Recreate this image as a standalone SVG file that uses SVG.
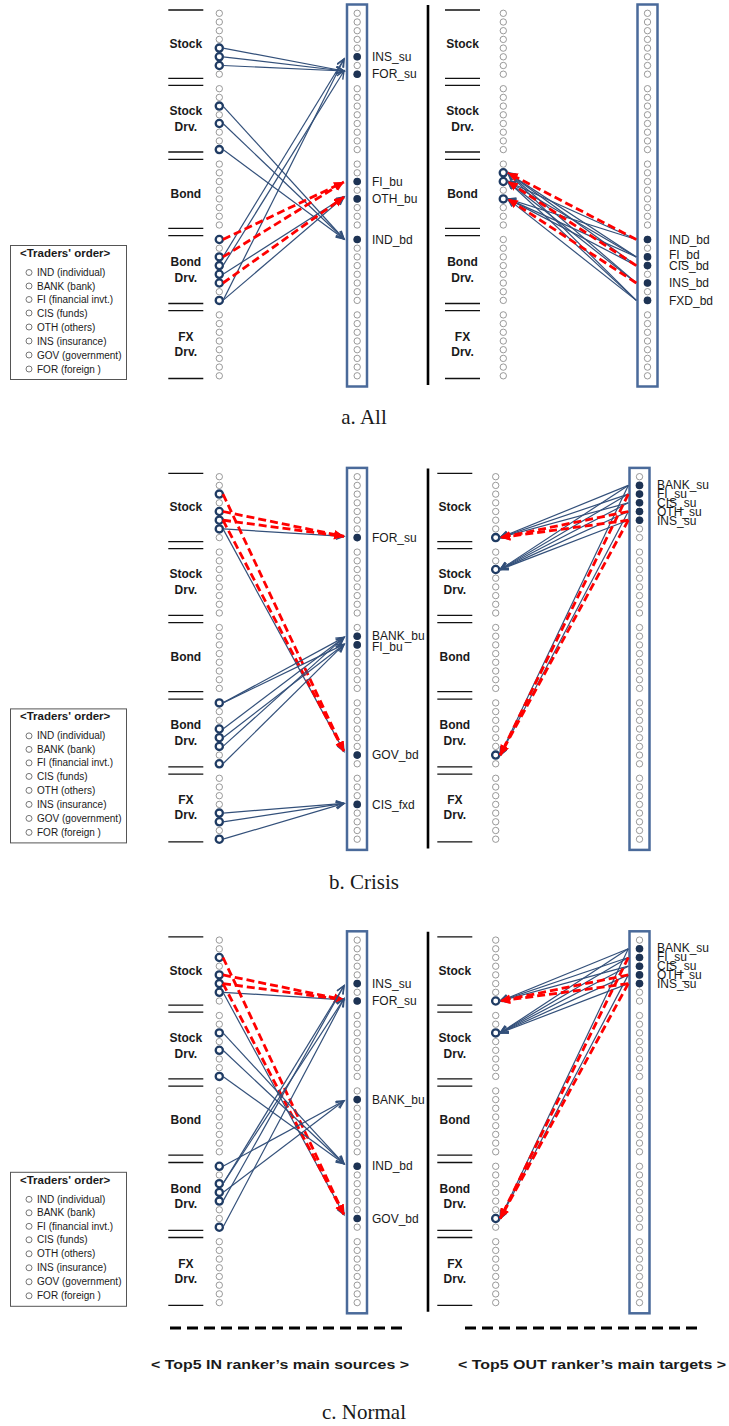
<svg xmlns="http://www.w3.org/2000/svg" xmlns:xlink="http://www.w3.org/1999/xlink" width="729" height="1426" viewBox="0 0 729 1426">
<style>
text{font-family:"Liberation Sans",Arial,sans-serif;fill:#1a1a1a}
.cat{font-size:12px;font-weight:bold;text-anchor:middle}
.lbl{font-size:12px}
.leg{font-size:10px}
.legt{font-size:11.5px;font-weight:bold}
.cap{font-family:"Liberation Serif","DejaVu Serif",serif;font-size:21px;text-anchor:middle}
.bot{font-size:13.5px;font-weight:bold;text-anchor:middle}
.lc{fill:#fff;stroke:#808080;stroke-width:0.8}
.hc{fill:#fff;stroke:#1f3b63;stroke-width:2.3}
.fc{fill:#1d3354;stroke:none}
.box{fill:none;stroke:#4a6a9a;stroke-width:2.5}
.div{stroke:#000;stroke-width:2.6}
.sep{stroke:#111;stroke-width:1.3}
.b{stroke:#33507a;stroke-width:1.2;fill:none;marker-end:url(#ab)}
.r{stroke:#ff0000;stroke-width:2.8;fill:none;stroke-dasharray:8 4;marker-end:url(#ar)}
</style>
<defs>
<marker id="ab" markerUnits="userSpaceOnUse" markerWidth="12" markerHeight="12" refX="9" refY="4" orient="auto">
<path d="M1,0.5 L9,4 L1,7.5" fill="none" stroke="#33507a" stroke-width="1.4"/>
</marker>
<marker id="ar" markerUnits="userSpaceOnUse" markerWidth="12" markerHeight="12" refX="10" refY="4.5" orient="auto">
<path d="M0,0 L10,4.5 L0,9 z" fill="#ff0000"/>
</marker>
<g id="col">
<circle class="lc" cx="0" cy="13.3" r="3.2"/><circle class="lc" cx="0" cy="22" r="3.2"/><circle class="lc" cx="0" cy="30.7" r="3.2"/><circle class="lc" cx="0" cy="39.4" r="3.2"/><circle class="lc" cx="0" cy="48.1" r="3.2"/><circle class="lc" cx="0" cy="56.8" r="3.2"/><circle class="lc" cx="0" cy="65.5" r="3.2"/><circle class="lc" cx="0" cy="74.2" r="3.2"/>
<circle class="lc" cx="0" cy="88.7" r="3.2"/><circle class="lc" cx="0" cy="97.4" r="3.2"/><circle class="lc" cx="0" cy="106.1" r="3.2"/><circle class="lc" cx="0" cy="114.8" r="3.2"/><circle class="lc" cx="0" cy="123.5" r="3.2"/><circle class="lc" cx="0" cy="132.2" r="3.2"/><circle class="lc" cx="0" cy="140.9" r="3.2"/><circle class="lc" cx="0" cy="149.6" r="3.2"/>
<circle class="lc" cx="0" cy="164.1" r="3.2"/><circle class="lc" cx="0" cy="172.8" r="3.2"/><circle class="lc" cx="0" cy="181.5" r="3.2"/><circle class="lc" cx="0" cy="190.2" r="3.2"/><circle class="lc" cx="0" cy="198.9" r="3.2"/><circle class="lc" cx="0" cy="207.6" r="3.2"/><circle class="lc" cx="0" cy="216.3" r="3.2"/><circle class="lc" cx="0" cy="225" r="3.2"/>
<circle class="lc" cx="0" cy="239.5" r="3.2"/><circle class="lc" cx="0" cy="248.2" r="3.2"/><circle class="lc" cx="0" cy="256.9" r="3.2"/><circle class="lc" cx="0" cy="265.6" r="3.2"/><circle class="lc" cx="0" cy="274.3" r="3.2"/><circle class="lc" cx="0" cy="283" r="3.2"/><circle class="lc" cx="0" cy="291.7" r="3.2"/><circle class="lc" cx="0" cy="300.4" r="3.2"/>
<circle class="lc" cx="0" cy="314.9" r="3.2"/><circle class="lc" cx="0" cy="323.6" r="3.2"/><circle class="lc" cx="0" cy="332.3" r="3.2"/><circle class="lc" cx="0" cy="341" r="3.2"/><circle class="lc" cx="0" cy="349.7" r="3.2"/><circle class="lc" cx="0" cy="358.4" r="3.2"/><circle class="lc" cx="0" cy="367.1" r="3.2"/><circle class="lc" cx="0" cy="375.8" r="3.2"/>
</g>
<g id="cats">
<path class="sep" d="M0,10H35M0,78.3H35M0,85.3H35M0,152H35M0,159.3H35M0,228.3H35M0,235.7H35M0,303.5H35M0,310.7H35M0,378.5H35"/>
<text class="cat" x="17.5" y="48">Stock</text>
<text class="cat" x="17.5" y="115">Stock</text><text class="cat" x="17.5" y="131">Drv.</text>
<text class="cat" x="17.5" y="197.5">Bond</text>
<text class="cat" x="17.5" y="266">Bond</text><text class="cat" x="17.5" y="281.5">Drv.</text>
<text class="cat" x="17.5" y="341">FX</text><text class="cat" x="17.5" y="356">Drv.</text>
</g>
<g id="legend">
<rect x="10.5" y="245.5" width="116" height="134" fill="#fff" stroke="#555" stroke-width="1"/>
<text class="legt" x="20" y="257">&lt;Traders' order&gt;</text>
<circle cx="29" cy="272.5" r="3" fill="none" stroke="#555" stroke-width="0.8"/><text class="leg" x="37" y="276">IND (individual)</text>
<circle cx="29" cy="286" r="3" fill="none" stroke="#555" stroke-width="0.8"/><text class="leg" x="37" y="289.5">BANK (bank)</text>
<circle cx="29" cy="299.5" r="3" fill="none" stroke="#555" stroke-width="0.8"/><text class="leg" x="37" y="303">FI (financial invt.)</text>
<circle cx="29" cy="313" r="3" fill="none" stroke="#555" stroke-width="0.8"/><text class="leg" x="37" y="316.5">CIS (funds)</text>
<circle cx="29" cy="327" r="3" fill="none" stroke="#555" stroke-width="0.8"/><text class="leg" x="37" y="330.5">OTH (others)</text>
<circle cx="29" cy="341" r="3" fill="none" stroke="#555" stroke-width="0.8"/><text class="leg" x="37" y="344.5">INS (insurance)</text>
<circle cx="29" cy="355" r="3" fill="none" stroke="#555" stroke-width="0.8"/><text class="leg" x="37" y="358.5">GOV (government)</text>
<circle cx="29" cy="369" r="3" fill="none" stroke="#555" stroke-width="0.8"/><text class="leg" x="37" y="372.5">FOR (foreign )</text>
</g>
</defs>

<!-- ================= PANEL A ================= -->
<g id="panel-a">
<use href="#legend"/>
<use href="#cats" x="168.3"/>
<use href="#cats" x="445"/>
<line class="div" x1="428" y1="5" x2="428" y2="385"/>
<rect class="box" x="347" y="4.5" width="20" height="382"/>
<rect class="box" x="637.5" y="4.5" width="20" height="382"/>
<use href="#col" x="219.3"/>
<use href="#col" x="357.2"/>
<use href="#col" x="503.3"/>
<use href="#col" x="647.5"/>
<g id="a-nodes">
<g id="a-src-left">
<circle class="hc" cx="219.3" cy="48.1" r="3.6"/><circle class="hc" cx="219.3" cy="56.8" r="3.6"/><circle class="hc" cx="219.3" cy="65.5" r="3.6"/>
<circle class="hc" cx="219.3" cy="106.1" r="3.6"/><circle class="hc" cx="219.3" cy="123.5" r="3.6"/><circle class="hc" cx="219.3" cy="149.6" r="3.6"/>
<circle class="hc" cx="219.3" cy="239.5" r="3.6"/><circle class="hc" cx="219.3" cy="256.9" r="3.6"/><circle class="hc" cx="219.3" cy="265.6" r="3.6"/><circle class="hc" cx="219.3" cy="274.3" r="3.6"/><circle class="hc" cx="219.3" cy="283" r="3.6"/><circle class="hc" cx="219.3" cy="300.4" r="3.6"/>
</g>
<g id="a-in-INS_su"><circle class="fc" cx="357.2" cy="56.8" r="3.8"/><text class="lbl" x="372" y="61">INS_su</text></g>
<g id="a-in-FOR_su"><circle class="fc" cx="357.2" cy="74.2" r="3.8"/><text class="lbl" x="372" y="78.4">FOR_su</text></g>
<g id="a-in-FI_bu"><circle class="fc" cx="357.2" cy="181.5" r="3.8"/><text class="lbl" x="372" y="185.7">FI_bu</text></g>
<g id="a-in-OTH_bu"><circle class="fc" cx="357.2" cy="198.9" r="3.8"/><text class="lbl" x="372" y="203.1">OTH_bu</text></g>
<g id="a-in-IND_bd"><circle class="fc" cx="357.2" cy="239.5" r="3.8"/><text class="lbl" x="372" y="243.7">IND_bd</text></g>
<g id="a-tgt-right">
<circle class="hc" cx="503.3" cy="172.8" r="3.6"/><circle class="hc" cx="503.3" cy="181.5" r="3.6"/><circle class="hc" cx="503.3" cy="198.9" r="3.6"/>
</g>
<g id="a-out-IND_bd"><circle class="fc" cx="647.5" cy="239.5" r="3.8"/><text class="lbl" x="669" y="243.7">IND_bd</text></g>
<g id="a-out-FI_bd"><circle class="fc" cx="647.5" cy="256.9" r="3.8"/><text class="lbl" x="669" y="258.7">FI_bd</text></g>
<g id="a-out-CIS_bd"><circle class="fc" cx="647.5" cy="265.6" r="3.8"/><text class="lbl" x="669" y="270.2">CIS_bd</text></g>
<g id="a-out-INS_bd"><circle class="fc" cx="647.5" cy="283" r="3.8"/><text class="lbl" x="669" y="287.2">INS_bd</text></g>
<g id="a-out-FXD_bd"><circle class="fc" cx="647.5" cy="300.4" r="3.8"/><text class="lbl" x="669" y="304.6">FXD_bd</text></g>
</g>
<g id="a-connectors">
<line class="b" x1="223" y1="48.1" x2="344" y2="71"/>
<line class="b" x1="223" y1="56.8" x2="344" y2="71"/>
<line class="b" x1="223" y1="65.5" x2="344" y2="71"/>
<line class="b" x1="223" y1="106.1" x2="344" y2="239"/>
<line class="b" x1="223" y1="123.5" x2="344" y2="239"/>
<line class="b" x1="223" y1="149.6" x2="344" y2="239"/>
<line class="b" x1="223" y1="256.9" x2="344" y2="59"/>
<line class="b" x1="223" y1="300.4" x2="344" y2="59"/>
<line class="b" x1="223" y1="265.6" x2="344" y2="71"/>
<line class="b" x1="223" y1="274.3" x2="344" y2="197"/>
<line class="b" x1="223" y1="300.4" x2="344" y2="197"/>
<line class="r" x1="223" y1="239.5" x2="344" y2="182"/>
<line class="r" x1="223" y1="256.9" x2="344" y2="182"/>
<line class="r" x1="223" y1="283" x2="344" y2="197"/>
<line class="b" x1="636.3" y1="239.5" x2="507.8" y2="181.5"/>
<line class="b" x1="636.3" y1="239.5" x2="507.8" y2="198.9"/>
<line class="b" x1="636.3" y1="256.9" x2="507.8" y2="172.8"/>
<line class="b" x1="636.3" y1="256.9" x2="507.8" y2="181.5"/>
<line class="b" x1="636.3" y1="256.9" x2="507.8" y2="198.9"/>
<line class="b" x1="636.3" y1="265.6" x2="507.8" y2="172.8"/>
<line class="b" x1="636.3" y1="265.6" x2="507.8" y2="198.9"/>
<line class="b" x1="636.3" y1="283" x2="507.8" y2="172.8"/>
<line class="b" x1="636.3" y1="283" x2="507.8" y2="181.5"/>
<line class="b" x1="636.3" y1="300.4" x2="507.8" y2="172.8"/>
<line class="b" x1="636.3" y1="300.4" x2="507.8" y2="181.5"/>
<line class="b" x1="636.3" y1="300.4" x2="507.8" y2="198.9"/>
<line class="r" x1="636.3" y1="239.5" x2="507.8" y2="172.8"/>
<line class="r" x1="636.3" y1="265.6" x2="507.8" y2="181.5"/>
<line class="r" x1="636.3" y1="283" x2="507.8" y2="198.9"/>
</g>
<text class="cap" x="364" y="424">a.  All</text>
</g>

<!-- ================= PANEL B ================= -->
<g id="panel-b" transform="translate(0,463.4)">
<use href="#legend"/>
<use href="#cats" x="168.3"/>
<use href="#cats" x="437.3"/>
<line class="div" x1="428" y1="5" x2="428" y2="385"/>
<rect class="box" x="347" y="4.5" width="20" height="382"/>
<rect class="box" x="629.5" y="4.5" width="20" height="382"/>
<use href="#col" x="219.3"/>
<use href="#col" x="357.2"/>
<use href="#col" x="495.7"/>
<use href="#col" x="639.5"/>
<g id="b-nodes">
<g id="b-src-left">
<circle class="hc" cx="219.3" cy="30.7" r="3.6"/><circle class="hc" cx="219.3" cy="48.1" r="3.6"/><circle class="hc" cx="219.3" cy="56.8" r="3.6"/><circle class="hc" cx="219.3" cy="65.5" r="3.6"/>
<circle class="hc" cx="219.3" cy="239.5" r="3.6"/><circle class="hc" cx="219.3" cy="265.6" r="3.6"/><circle class="hc" cx="219.3" cy="274.3" r="3.6"/><circle class="hc" cx="219.3" cy="283" r="3.6"/><circle class="hc" cx="219.3" cy="300.4" r="3.6"/>
<circle class="hc" cx="219.3" cy="349.7" r="3.6"/><circle class="hc" cx="219.3" cy="358.4" r="3.6"/><circle class="hc" cx="219.3" cy="375.8" r="3.6"/>
</g>
<g id="b-in-FOR_su"><circle class="fc" cx="357.2" cy="74.2" r="3.8"/><text class="lbl" x="372" y="78.4">FOR_su</text></g>
<g id="b-in-BANK_bu"><circle class="fc" cx="357.2" cy="172.8" r="3.8"/><text class="lbl" x="372" y="177">BANK_bu</text></g>
<g id="b-in-FI_bu"><circle class="fc" cx="357.2" cy="181.5" r="3.8"/><text class="lbl" x="372" y="188">FI_bu</text></g>
<g id="b-in-GOV_bd"><circle class="fc" cx="357.2" cy="291.7" r="3.8"/><text class="lbl" x="372" y="295.9">GOV_bd</text></g>
<g id="b-in-CIS_fxd"><circle class="fc" cx="357.2" cy="341" r="3.8"/><text class="lbl" x="372" y="345.2">CIS_fxd</text></g>
<g id="b-tgt-right">
<circle class="hc" cx="495.7" cy="74.2" r="3.6"/><circle class="hc" cx="495.7" cy="106.1" r="3.6"/><circle class="hc" cx="495.7" cy="291.7" r="3.6"/>
</g>
<g id="b-out-BANK_su"><circle class="fc" cx="639.5" cy="22" r="3.8"/><text class="lbl" x="657" y="25.5">BANK_su</text></g>
<g id="b-out-FI_su"><circle class="fc" cx="639.5" cy="30.7" r="3.8"/><text class="lbl" x="657" y="34.5">FI_su</text></g>
<g id="b-out-CIS_su"><circle class="fc" cx="639.5" cy="39.4" r="3.8"/><text class="lbl" x="657" y="43.5">CIS_su</text></g>
<g id="b-out-OTH_su"><circle class="fc" cx="639.5" cy="48.1" r="3.8"/><text class="lbl" x="657" y="52.3">OTH_su</text></g>
<g id="b-out-INS_su"><circle class="fc" cx="639.5" cy="56.8" r="3.8"/><text class="lbl" x="657" y="61.5">INS_su</text></g>
</g>
<g id="b-connectors">
<line class="b" x1="223" y1="65.5" x2="344" y2="73"/>
<line class="b" x1="223" y1="65.5" x2="344" y2="288"/>
<line class="r" x1="223" y1="30.7" x2="344" y2="288"/>
<line class="r" x1="223" y1="56.8" x2="344" y2="288"/>
<line class="r" x1="223" y1="48.1" x2="344" y2="73"/>
<line class="r" x1="223" y1="56.8" x2="344" y2="73"/>
<line class="b" x1="223" y1="239.5" x2="344" y2="174"/>
<line class="b" x1="223" y1="239.5" x2="344" y2="181"/>
<line class="b" x1="223" y1="265.6" x2="344" y2="174"/>
<line class="b" x1="223" y1="274.3" x2="344" y2="181"/>
<line class="b" x1="223" y1="283" x2="344" y2="174"/>
<line class="b" x1="223" y1="300.4" x2="344" y2="181"/>
<line class="b" x1="223" y1="349.7" x2="344" y2="340"/>
<line class="b" x1="223" y1="358.4" x2="344" y2="340"/>
<line class="b" x1="223" y1="375.8" x2="344" y2="340"/>
<line class="b" x1="628.3" y1="22" x2="500.2" y2="74.2"/>
<line class="b" x1="628.3" y1="30.7" x2="500.2" y2="74.2"/>
<line class="b" x1="628.3" y1="39.4" x2="500.2" y2="74.2"/>
<line class="b" x1="628.3" y1="22" x2="500.2" y2="106.1"/>
<line class="b" x1="628.3" y1="30.7" x2="500.2" y2="106.1"/>
<line class="b" x1="628.3" y1="39.4" x2="500.2" y2="106.1"/>
<line class="b" x1="628.3" y1="48.1" x2="500.2" y2="106.1"/>
<line class="b" x1="628.3" y1="56.8" x2="500.2" y2="106.1"/>
<line class="b" x1="628.3" y1="22" x2="500.2" y2="291.7"/>
<line class="b" x1="628.3" y1="48.1" x2="500.2" y2="291.7"/>
<line class="r" x1="628.3" y1="48.1" x2="500.2" y2="74.2"/>
<line class="r" x1="628.3" y1="56.8" x2="500.2" y2="74.2"/>
<line class="r" x1="628.3" y1="30.7" x2="500.2" y2="291.7"/>
<line class="r" x1="628.3" y1="56.8" x2="500.2" y2="291.7"/>
</g>
<text class="cap" x="364" y="426">b.  Crisis</text>
</g>

<!-- ================= PANEL C ================= -->
<g id="panel-c" transform="translate(0,926.8)">
<use href="#legend"/>
<use href="#cats" x="168.3"/>
<use href="#cats" x="437.3"/>
<line class="div" x1="428" y1="5" x2="428" y2="385"/>
<rect class="box" x="347" y="4.5" width="20" height="382"/>
<rect class="box" x="629.5" y="4.5" width="20" height="382"/>
<use href="#col" x="219.3"/>
<use href="#col" x="357.2"/>
<use href="#col" x="495.7"/>
<use href="#col" x="639.5"/>
<g id="c-nodes">
<g id="c-src-left">
<circle class="hc" cx="219.3" cy="30.7" r="3.6"/><circle class="hc" cx="219.3" cy="48.1" r="3.6"/><circle class="hc" cx="219.3" cy="56.8" r="3.6"/><circle class="hc" cx="219.3" cy="65.5" r="3.6"/>
<circle class="hc" cx="219.3" cy="106.1" r="3.6"/><circle class="hc" cx="219.3" cy="123.5" r="3.6"/><circle class="hc" cx="219.3" cy="149.6" r="3.6"/>
<circle class="hc" cx="219.3" cy="239.5" r="3.6"/><circle class="hc" cx="219.3" cy="256.9" r="3.6"/><circle class="hc" cx="219.3" cy="265.6" r="3.6"/><circle class="hc" cx="219.3" cy="274.3" r="3.6"/><circle class="hc" cx="219.3" cy="300.4" r="3.6"/>
</g>
<g id="c-in-INS_su"><circle class="fc" cx="357.2" cy="56.8" r="3.8"/><text class="lbl" x="372" y="61">INS_su</text></g>
<g id="c-in-FOR_su"><circle class="fc" cx="357.2" cy="74.2" r="3.8"/><text class="lbl" x="372" y="78.4">FOR_su</text></g>
<g id="c-in-BANK_bu"><circle class="fc" cx="357.2" cy="172.8" r="3.8"/><text class="lbl" x="372" y="177">BANK_bu</text></g>
<g id="c-in-IND_bd"><circle class="fc" cx="357.2" cy="239.5" r="3.8"/><text class="lbl" x="372" y="243.7">IND_bd</text></g>
<g id="c-in-GOV_bd"><circle class="fc" cx="357.2" cy="291.7" r="3.8"/><text class="lbl" x="372" y="295.9">GOV_bd</text></g>
<g id="c-tgt-right">
<circle class="hc" cx="495.7" cy="74.2" r="3.6"/><circle class="hc" cx="495.7" cy="106.1" r="3.6"/><circle class="hc" cx="495.7" cy="291.7" r="3.6"/>
</g>
<g id="c-out-BANK_su"><circle class="fc" cx="639.5" cy="22" r="3.8"/><text class="lbl" x="657" y="25.5">BANK_su</text></g>
<g id="c-out-FI_su"><circle class="fc" cx="639.5" cy="30.7" r="3.8"/><text class="lbl" x="657" y="34.5">FI_su</text></g>
<g id="c-out-CIS_su"><circle class="fc" cx="639.5" cy="39.4" r="3.8"/><text class="lbl" x="657" y="43.5">CIS_su</text></g>
<g id="c-out-OTH_su"><circle class="fc" cx="639.5" cy="48.1" r="3.8"/><text class="lbl" x="657" y="52.3">OTH_su</text></g>
<g id="c-out-INS_su"><circle class="fc" cx="639.5" cy="56.8" r="3.8"/><text class="lbl" x="657" y="61.5">INS_su</text></g>
</g>
<g id="c-connectors">
<line class="b" x1="223" y1="65.5" x2="344" y2="73"/>
<line class="b" x1="223" y1="65.5" x2="344" y2="288"/>
<line class="r" x1="223" y1="30.7" x2="344" y2="288"/>
<line class="r" x1="223" y1="56.8" x2="344" y2="288"/>
<line class="r" x1="223" y1="48.1" x2="344" y2="73"/>
<line class="r" x1="223" y1="56.8" x2="344" y2="73"/>
<line class="b" x1="223" y1="106.1" x2="344" y2="237"/>
<line class="b" x1="223" y1="123.5" x2="344" y2="237"/>
<line class="b" x1="223" y1="149.6" x2="344" y2="237"/>
<line class="b" x1="223" y1="239.5" x2="344" y2="174"/>
<line class="b" x1="223" y1="265.6" x2="344" y2="174"/>
<line class="b" x1="223" y1="256.9" x2="344" y2="59"/>
<line class="b" x1="223" y1="274.3" x2="344" y2="59"/>
<line class="b" x1="223" y1="256.9" x2="344" y2="72"/>
<line class="b" x1="223" y1="300.4" x2="344" y2="72"/>
<line class="b" x1="628.3" y1="22" x2="500.2" y2="74.2"/>
<line class="b" x1="628.3" y1="30.7" x2="500.2" y2="74.2"/>
<line class="b" x1="628.3" y1="39.4" x2="500.2" y2="74.2"/>
<line class="b" x1="628.3" y1="22" x2="500.2" y2="106.1"/>
<line class="b" x1="628.3" y1="30.7" x2="500.2" y2="106.1"/>
<line class="b" x1="628.3" y1="39.4" x2="500.2" y2="106.1"/>
<line class="b" x1="628.3" y1="48.1" x2="500.2" y2="106.1"/>
<line class="b" x1="628.3" y1="56.8" x2="500.2" y2="106.1"/>
<line class="b" x1="628.3" y1="22" x2="500.2" y2="291.7"/>
<line class="b" x1="628.3" y1="48.1" x2="500.2" y2="291.7"/>
<line class="r" x1="628.3" y1="48.1" x2="500.2" y2="74.2"/>
<line class="r" x1="628.3" y1="56.8" x2="500.2" y2="74.2"/>
<line class="r" x1="628.3" y1="30.7" x2="500.2" y2="291.7"/>
<line class="r" x1="628.3" y1="56.8" x2="500.2" y2="291.7"/>
</g>
<path d="M170,401.2H405M465,401.2H700" stroke="#000" stroke-width="3" stroke-dasharray="11 6"/>
<text class="bot" x="280" y="442" textLength="258" lengthAdjust="spacingAndGlyphs">&lt; Top5 IN ranker’s main sources &gt;</text>
<text class="bot" x="592" y="442" textLength="268" lengthAdjust="spacingAndGlyphs">&lt; Top5 OUT ranker’s main targets &gt;</text>
<text class="cap" x="364" y="492">c.  Normal</text>
</g>
</svg>
